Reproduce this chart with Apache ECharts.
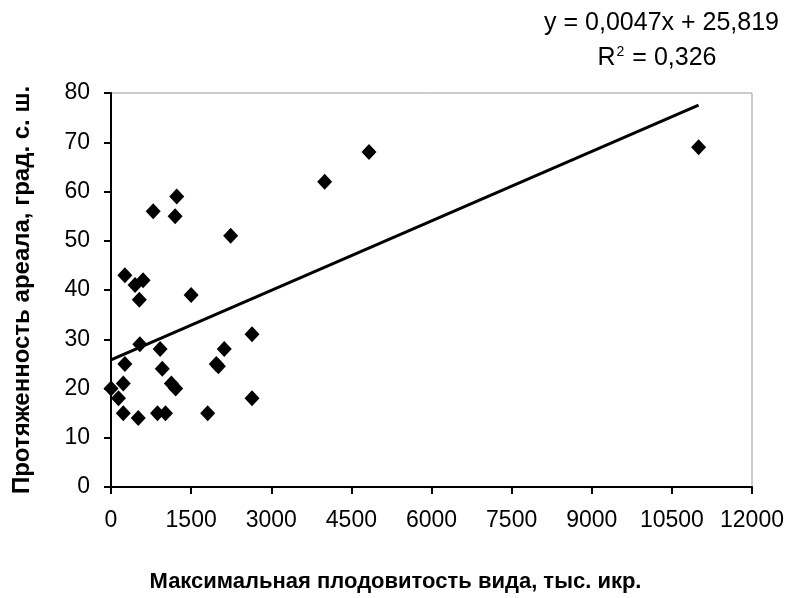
<!DOCTYPE html>
<html>
<head>
<meta charset="utf-8">
<script src="https://cdn.jsdelivr.net/npm/echarts@6/dist/echarts.min.js"></script>
<style>
  html, body { margin: 0; padding: 0; background: #fff; }
  #chart { width: 788px; height: 598px; }
</style>
</head>
<body>
<div id="chart"></div>
<script>
// fecundity (thousand eggs) vs range extent (deg N)
const fecundity = [0, 140, 230, 230, 260, 260, 450, 510, 530, 540, 600, 790, 870, 920, 960, 1020,
  1130, 1200, 1210, 1230, 1500, 1810, 1970, 2010, 2120, 2240, 2640, 2640, 4000, 4830, 11000]
const rangeDeg = [20, 18, 21, 15, 25, 43, 41, 14, 38, 29, 42, 56, 15, 28, 24, 15,
  21, 55, 20, 59, 39, 15, 25, 24.5, 28, 51, 31, 18, 62, 68, 69]

// linear trend as printed on the chart
const trendSlope = 0.0047
const trendIntercept = 25.819
const trendX = [0, 11000]
const equationLines = ['y = 0,0047x + 25,819', 'R{sup|2} = 0,326']

const xTicks = [0, 1500, 3000, 4500, 6000, 7500, 9000, 10500, 12000]
const yTicks = [0, 10, 20, 30, 40, 50, 60, 70, 80]

const font = '"Liberation Sans", Arial, sans-serif'
const chart = echarts.init(document.getElementById('chart'))

chart.setOption({
  backgroundColor: '#fff',
  animation: false,
  grid: { left: 111, right: 36, top: 93, bottom: 111, show: true, borderColor: '#9a9a9a', borderWidth: 1 },
  graphic: [
    {
      type: 'text', x: 779, y: 23,
      style: { text: equationLines[0], font: '25px ' + font, fill: '#000', align: 'right', verticalAlign: 'middle' }
    },
    {
      type: 'text', x: 657, y: 58,
      style: {
        text: equationLines[1], font: '25px ' + font, fill: '#000', align: 'center', verticalAlign: 'middle',
        rich: { sup: { fontSize: 14, fontFamily: font, padding: [0, 1, 12, 1] } }
      }
    }
  ],
  xAxis: {
    type: 'value',
    min: xTicks[0],
    max: xTicks[xTicks.length - 1],
    interval: 1500,
    name: 'Максимальная плодовитость вида, тыс. икр.',
    nameLocation: 'middle',
    nameGap: 84,
    nameTextStyle: { fontFamily: font, fontSize: 22, fontWeight: 'bold', color: '#000', padding: [0, 72, 0, 0] },
    axisLine: { lineStyle: { color: '#000', width: 2 } },
    axisTick: { show: true, length: 7, lineStyle: { color: '#000', width: 2 } },
    axisLabel: { fontFamily: font, fontSize: 23, color: '#000', margin: 22, showMaxLabel: true, formatter: (v) => String(v) },
    splitLine: { show: false }
  },
  yAxis: {
    type: 'value',
    min: yTicks[0],
    max: yTicks[yTicks.length - 1],
    interval: 10,
    name: 'Протяженность ареала, град. с. ш.',
    nameLocation: 'middle',
    nameGap: 77,
    nameTextStyle: { fontFamily: font, fontSize: 24, fontWeight: 'bold', color: '#000' },
    axisLine: { show: true, lineStyle: { color: '#000', width: 2 } },
    axisTick: { show: true, length: 7, lineStyle: { color: '#000', width: 2 } },
    axisLabel: { fontFamily: font, fontSize: 23, color: '#000', margin: 21, formatter: (v) => String(v) },
    splitLine: { show: false }
  },
  series: [
    {
      type: 'line',
      data: trendX.map((x) => [x, trendIntercept + trendSlope * x]),
      symbol: 'none',
      lineStyle: { color: '#000', width: 3 },
      z: 2
    },
    {
      type: 'scatter',
      data: fecundity.map((x, i) => [x, rangeDeg[i]]),
      symbol: 'diamond',
      symbolSize: [15, 16],
      itemStyle: { color: '#000', opacity: 1 },
      z: 3
    }
  ]
})
</script>
</body>
</html>
